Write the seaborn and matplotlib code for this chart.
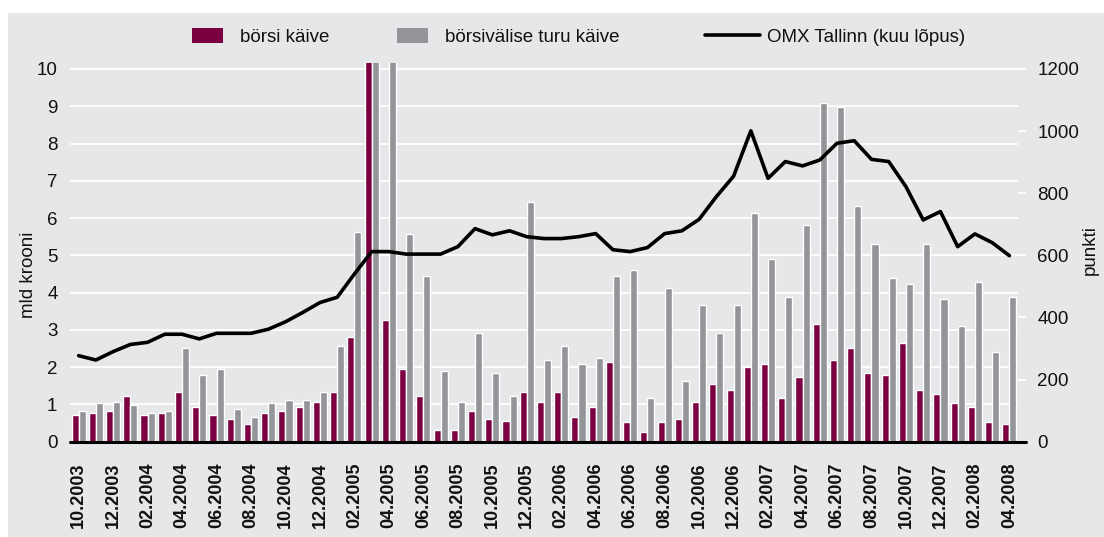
import numpy as np
import pandas as pd
import seaborn as sns
import matplotlib
matplotlib.use("Agg")
import matplotlib.pyplot as plt
from matplotlib.patches import Rectangle, Patch
from matplotlib.lines import Line2D

# Monthly turnover (bln EEK) and OMX Tallinn index at month end, 10.2003 - 04.2008
months = [p.strftime("%m.%Y") for p in pd.period_range("2003-10", "2008-04", freq="M")]

borsi_kaive = [0.72, 0.77, 0.82, 1.23, 0.72, 0.77, 1.33, 0.93, 0.72, 0.61, 0.47, 0.77,
               0.82, 0.93, 1.06, 1.33, 2.81, 12.0, 3.26, 1.95, 1.23, 0.31, 0.31, 0.82,
               0.61, 0.55, 1.33, 1.06, 1.33, 0.66, 0.93, 2.14, 0.53, 0.26, 0.53, 0.61,
               1.06, 1.55, 1.39, 2.00, 2.08, 1.17, 1.74, 3.16, 2.19, 2.51, 1.84, 1.79,
               2.65, 1.39, 1.28, 1.04, 0.93, 0.53, 0.47]

borsivalise_kaive = [0.82, 1.04, 1.06, 0.98, 0.77, 0.82, 2.51, 1.79, 1.95, 0.88, 0.66, 1.04,
                     1.12, 1.12, 1.33, 2.57, 5.63, 11.0, 10.8, 5.57, 4.45, 1.90, 1.06, 2.92,
                     1.84, 1.23, 6.43, 2.19, 2.57, 2.08, 2.25, 4.45, 4.61, 1.17, 4.12, 1.63,
                     3.67, 2.92, 3.67, 6.14, 4.90, 3.89, 5.81, 9.09, 8.98, 6.32, 5.30, 4.39,
                     4.23, 5.30, 3.83, 3.10, 4.28, 2.41, 3.89]

omx_tallinn = [277, 263, 290, 313, 320, 346, 346, 331, 349, 349, 349, 362,
               386, 416, 448, 465, 540, 612, 612, 604, 604, 604, 628, 686,
               666, 679, 660, 654, 654, 660, 670, 618, 612, 625, 670, 679,
               716, 789, 855, 1001, 848, 902, 888, 907, 961, 969, 909, 902,
               821, 714, 741, 628, 669, 641, 599]

series_names = ["börsi käive", "börsivälise turu käive"]
line_name = "OMX Tallinn (kuu lõpus)"

MAROON = "#7b0041"
GRAY = "#939598"
BG = "#e6e7e8"
TXT = "#111111"

sns.set_theme(style="white")
plt.rcParams["font.family"] = ["Liberation Sans", "DejaVu Sans"]

W, H = 1104, 537
fig = plt.figure(figsize=(W / 100, H / 100), dpi=100, facecolor="white")
fig.patches.append(Rectangle((8 / W, 0), 1, (H - 13) / H, transform=fig.transFigure,
                             facecolor=BG, edgecolor="none", zorder=-10))

ax = fig.add_axes([70 / W, (H - 441.7) / H, 948 / W, (441.7 - 63.4) / H])
ax.set_facecolor(BG)

df = pd.DataFrame({
    "kuu": months * 2,
    "seeria": [series_names[0]] * len(months) + [series_names[1]] * len(months),
    "mld": borsi_kaive + borsivalise_kaive,
})

sns.barplot(data=df, x="kuu", y="mld", hue="seeria", hue_order=series_names,
            palette=[MAROON, GRAY], width=0.82, saturation=1, errorbar=None,
            legend=False, ax=ax)

ax.set_xlim(-0.5, len(months) - 0.5)
ax.set_ylim(0, 10.15)
ax.set_yticks(range(0, 11))
ax.grid(axis="y", color="white", lw=1.3)
ax.grid(axis="x", visible=False)
ax.set_axisbelow(True)
ax.tick_params(axis="y", length=0, pad=9, labelsize=13.5, labelcolor=TXT)
ax.set_xticks(range(0, len(months), 2))
ax.set_xticklabels(months[::2], rotation=90, fontweight="bold", fontsize=13, color=TXT)
ax.tick_params(axis="x", length=0, pad=15)
ax.set_xlabel("")
ax.set_ylabel("mld krooni", fontsize=13.5, color=TXT)
ax.yaxis.set_label_coords(-0.035, 0.44)
for s in ax.spines.values():
    s.set_visible(False)

# Index line on the secondary axis
ax2 = ax.twinx()
sns.lineplot(x=np.arange(len(months)), y=omx_tallinn, color="black", lw=2.6, ax=ax2)
ax2.set_xlim(-0.5, len(months) - 0.5)
ax2.set_ylim(0, 10.15 * 120)
ax2.set_yticks(range(0, 1201, 200))
ax2.tick_params(axis="y", direction="out", length=6, width=1.3, color="white",
                pad=8, labelsize=13.5, labelcolor=TXT)
ax2.set_ylabel("punkti", fontsize=13.5, color=TXT)
ax2.yaxis.set_label_coords(1.0675, 0.507)
ax2.grid(False)
for s in ax2.spines.values():
    s.set_visible(False)
ax2.axhline(0, xmin=0, xmax=1.008, color="black", lw=2.2, clip_on=False, zorder=5)

# Legend row above the plot
fs = 13.5
px = fs * 100 / 72
ly = 1 - 37 / H
common = dict(loc="center left", frameon=False, borderpad=0, borderaxespad=0,
              fontsize=fs, labelcolor=TXT)
fig.legend(handles=[Patch(facecolor=MAROON, edgecolor="none")], labels=[series_names[0]],
           bbox_to_anchor=(192 / W, ly), handlelength=31 / px, handleheight=16 / px,
           handletextpad=17 / px, **common)
fig.legend(handles=[Patch(facecolor=GRAY, edgecolor="none")], labels=[series_names[1]],
           bbox_to_anchor=(397 / W, ly), handlelength=31 / px, handleheight=16 / px,
           handletextpad=17 / px, **common)
fig.legend(handles=[Line2D([], [], color="black", lw=2.6)], labels=[line_name],
           bbox_to_anchor=(705 / W, ly), handlelength=55 / px,
           handletextpad=7 / px, **common)

fig.savefig("out.png", dpi=100, facecolor=fig.get_facecolor())
